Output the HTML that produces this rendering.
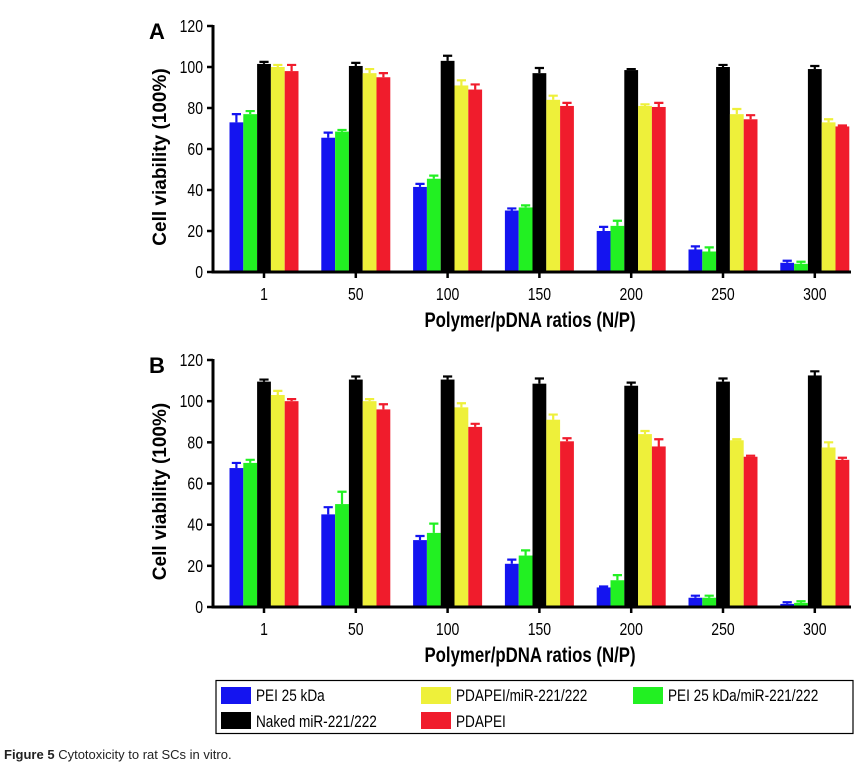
<!DOCTYPE html>
<html><head><meta charset="utf-8"><style>
html,body{margin:0;padding:0;background:#fff;}
svg{display:block;}
.t{font-family:"Liberation Sans",sans-serif;}
.b{font-family:"Liberation Sans",sans-serif;font-weight:bold;}
</style></head><body>
<svg id="chart" width="865" height="776" viewBox="0 0 865 776" xmlns="http://www.w3.org/2000/svg">
<g id="legend">
<rect x="216" y="680.5" width="637" height="53" fill="#fff" stroke="#000" stroke-width="1.2"/>
<g><rect x="221" y="687" width="30" height="17" fill="#1414f0"/><text class="t" transform="translate(256 701) scale(0.8 1)" font-size="17">PEI 25 kDa</text></g>
<g><rect x="421" y="687" width="30" height="17" fill="#eef03a"/><text class="t" transform="translate(456 701) scale(0.8 1)" font-size="17">PDAPEI/miR-221/222</text></g>
<g><rect x="633" y="687" width="30" height="17" fill="#22f022"/><text class="t" transform="translate(668 701) scale(0.8 1)" font-size="17">PEI 25 kDa/miR-221/222</text></g>
<g><rect x="221" y="712" width="30" height="17" fill="#000"/><text class="t" transform="translate(256 727) scale(0.8 1)" font-size="17">Naked miR-221/222</text></g>
<g><rect x="421" y="712" width="30" height="17" fill="#f01c2c"/><text class="t" transform="translate(456 727) scale(0.8 1)" font-size="17">PDAPEI</text></g>
</g>
<text x="4" y="759" font-size="13" font-family="Liberation Sans, sans-serif" fill="#222"><tspan font-weight="bold">Figure 5</tspan> Cytotoxicity to rat SCs in vitro.</text>
</svg>
<script>
const categories=["1","50","100","150","200","250","300"];
const yTicks=[0,20,40,60,80,100,120];
const seriesNames=["PEI 25 kDa","PEI 25 kDa/miR-221/222","Naked miR-221/222","PDAPEI/miR-221/222","PDAPEI"];
const seriesColors=["#1414f0","#22f022","#000000","#eef03a","#f01c2c"];
const aPei=[73,65.5,41.5,30,20,11,4.5];
const aPeiErr=[4,2.5,1.5,1,2,1.5,1];
const aPeiMir=[77,68.5,45.5,31.5,22.5,10,4];
const aPeiMirErr=[1.5,0.8,1.5,1,2.5,2,1];
const aNaked=[101.5,100.5,103,97,98.5,100,99];
const aNakedErr=[1,1.5,2.5,2.5,0.5,1,1.5];
const aPdaMir=[100,97,91,84,81,77,73];
const aPdaMirErr=[1,2,2.5,2,0.8,2.5,1.5];
const aPda=[98,95,89,81,80.5,74.5,71];
const aPdaErr=[3,2,2.5,1.5,2,2,0.5];
const bPei=[67.5,45,32.5,21,9.5,4.5,1.5];
const bPeiErr=[2.5,3.5,2,2,0.5,1,0.8];
const bPeiMir=[70,50,36,25,13,4.5,2];
const bPeiMirErr=[1.5,6,4.5,2.5,2.5,1,0.8];
const bNaked=[109.5,110.5,110.5,108.5,107.5,109.5,112.5];
const bNakedErr=[1,1.5,1.5,2.5,1.5,1.5,2];
const bPdaMir=[103,100,97,91,84,81,77.5];
const bPdaMirErr=[2,1,2,2.5,1.5,0.5,2.5];
const bPda=[100,96,87.5,80.5,78,73,71.5];
const bPdaErr=[1,2.5,1.5,1.5,3.5,0.5,1];

const NS="http://www.w3.org/2000/svg";
const svg=document.getElementById('chart');
function mk(tag,attrs,parent){const e=document.createElementNS(NS,tag);for(const k in attrs)e.setAttribute(k,attrs[k]);parent.appendChild(e);return e;}

function panel(letter,y0,y120,vals,errs){
  const g=mk('g',{},svg);
  
  
  const xAxis=213, xEnd=851, first=264, step=91.8, bw=13.8;
  const ys=v=>y0-(v/120)*(y0-y120);
  const xc=i=>first+i*step;
  for(let s=0;s<5;s++){
    for(let i=0;i<categories.length;i++){
      const x=xc(i)+(s-2)*bw-bw/2;
      const top=ys(vals[s][i]);
      const r=mk('rect',{x:x,y:top,width:bw,height:y0-top,fill:seriesColors[s]},g);
      
      
      const et=ys(vals[s][i]+errs[s][i]);
      const cx=x+bw/2;
      const e=mk('path',{d:`M${cx} ${top} V${et} M${cx-bw/3} ${et} H${cx+bw/3}`,stroke:seriesColors[s],'stroke-width':2.2,fill:'none'},g);
      
      
    }
  }
  const ax=mk('path',{d:`M${xAxis} ${y120-1} V${y0} H${xEnd}`,stroke:'#000','stroke-width':3,fill:'none'},g);
  
  
  yTicks.forEach(v=>{
    const y=ys(v);
    mk('line',{x1:xAxis-6,x2:xAxis,y1:y,y2:y,stroke:'#000','stroke-width':2.5},g);
    const t=mk('text',{'text-anchor':'end','font-size':18,class:'t',transform:`translate(${xAxis-10} ${y+6}) scale(0.78 1)`},g);
    t.textContent=v;
    
    
  });
  categories.forEach((c,i)=>{
    const x=xc(i);
    mk('line',{x1:x,x2:x,y1:y0,y2:y0+6,stroke:'#000','stroke-width':2.5},g);
    const t=mk('text',{'text-anchor':'middle','font-size':18,class:'t',transform:`translate(${x} ${y0+28}) scale(0.78 1)`},g);
    t.textContent=c;
    
    
  });
  const xt=mk('text',{'text-anchor':'middle','font-size':21,class:'b',transform:`translate(530 ${y0+55}) scale(0.8 1)`},g);
  xt.textContent='Polymer/pDNA ratios (N/P)';
  
  
  const ym=(y0+y120)/2+8;
  const yt=mk('text',{x:0,y:0,'text-anchor':'middle','font-size':19,class:'b',transform:`translate(166 ${ym}) rotate(-90)`},g);
  yt.textContent='Cell viability (100%)';
  
  
  const pl=mk('text',{x:149,y:y120+13,'font-size':22,class:'b'},g);
  pl.textContent=letter;
  
  
}
panel('A',272,26,[aPei,aPeiMir,aNaked,aPdaMir,aPda],[aPeiErr,aPeiMirErr,aNakedErr,aPdaMirErr,aPdaErr]);
panel('B',607,360,[bPei,bPeiMir,bNaked,bPdaMir,bPda],[bPeiErr,bPeiMirErr,bNakedErr,bPdaMirErr,bPdaErr]);
</script>
</body></html>
